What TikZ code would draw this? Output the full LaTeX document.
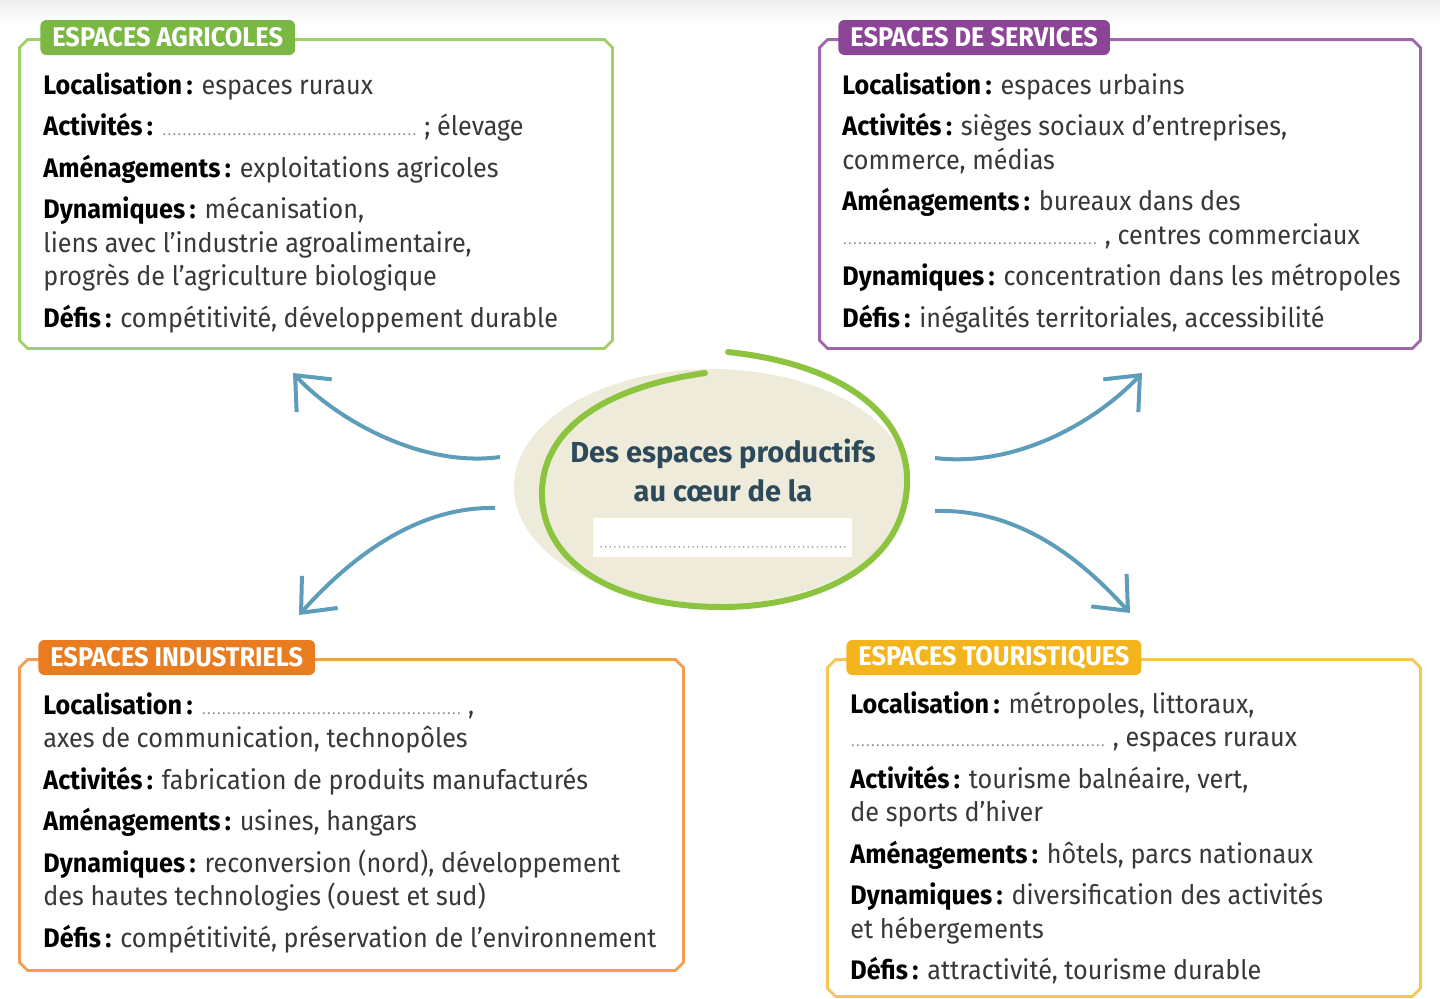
\documentclass[tikz,border=0pt]{standalone}
\usepackage{fontspec}
\setmainfont[FakeStretch=0.94]{Fira Sans}
\newfontfamily\centrefont{Fira Sans}
\usetikzlibrary{arrows.meta,shapes.geometric,positioning,calc}

\definecolor{agri}{HTML}{7AB743}
\definecolor{agriline}{HTML}{A3CF6A}
\definecolor{serv}{HTML}{8C4497}
\definecolor{servline}{HTML}{A066AA}
\definecolor{indus}{HTML}{E97C1F}
\definecolor{indusline}{HTML}{EE9F55}
\definecolor{tour}{HTML}{F4B41C}
\definecolor{tourline}{HTML}{F6C654}
\definecolor{flow}{HTML}{5E9DB9}
\definecolor{titre}{HTML}{2D4A5B}
\definecolor{creme}{HTML}{EEEBDA}
\definecolor{anneau}{HTML}{8DC43F}
\definecolor{texte}{HTML}{383838}

\newcommand\lbl[1]{{\bfseries\color{black}#1\,:}}
\newcommand\blank[1]{\hbox to #1{\color{gray}\leaders\hbox to 2.5pt{\hss\scriptsize.\hss}\hfill}}

\tikzset{
  cadre/.style={rectangle, inner sep=0pt},
  onglet/.style={fill=#1, rounded corners=3pt, text=white, font=\bfseries\fontsize{13.5}{14}\selectfont, inner xsep=6pt, inner ysep=0pt, minimum height=17.5pt, anchor=west},
  contenu/.style={align=left, anchor=north west, inner sep=0pt, text=texte, font=\fontsize{13.4}{16.75}\selectfont},
  fleche/.style={draw=flow, line width=2pt, -{Straight Barb[length=14pt,width=24pt]}}
}

\begin{document}
\begin{tikzpicture}[x=0.5pt,y=-0.5pt]
  \useasboundingbox (0,0) rectangle (1440,998);
  \shade[top color=gray!14, bottom color=white] (0,0) rectangle (1440,24);
  % The four boxes
  \node[cadre, minimum width=296pt, minimum height=154pt] (agri) at (316,194) {};
  \node[cadre, minimum width=300pt, minimum height=154pt] (serv) at (1120,194) {};
  \node[cadre, minimum width=331.5pt, minimum height=155pt] (indus) at (351.5,815) {};
  \node[cadre, minimum width=296pt, minimum height=168pt] (tour) at (1124,828) {};
  % chamfered outlines
  \foreach \b/\c in {agri/agriline,serv/servline,indus/indusline,tour/tourline}
    \draw[\c, line width=1.4pt] ($(\b.north west)+(8,0)$) -- ($(\b.north east)+(-8,0)$) -- ($(\b.north east)+(0,8)$)
      -- ($(\b.south east)+(0,-8)$) -- ($(\b.south east)+(-8,0)$) -- ($(\b.south west)+(8,0)$)
      -- ($(\b.south west)+(0,-8)$) -- ($(\b.north west)+(0,8)$) -- cycle;
  % Tabs
  \node[onglet=agri] (agritab) at (40,37.5) {ESPACES AGRICOLES};
  \node[onglet=serv] (servtab) at (838,37.5) {ESPACES DE SERVICES};
  \node[onglet=indus] (industab) at (38,657.5) {ESPACES INDUSTRIELS};
  \node[onglet=tour] (tourtab) at (846,657.5) {ESPACES TOURISTIQUES};
  % Contents
  \node[contenu] (agritxt) at (43,72) {%
    \lbl{Localisation} espaces ruraux\\[4pt]
    \lbl{Activités} \blank{129pt}\,; élevage\\[4pt]
    \lbl{Aménagements} exploitations agricoles\\[4pt]
    \lbl{Dynamiques} mécanisation,\\
    liens avec l’industrie agroalimentaire,\\
    progrès de l’agriculture biologique\\[4pt]
    \lbl{Défis} compétitivité, développement durable};
  \node[contenu] (servtxt) at (842,72) {%
    \lbl{Localisation} espaces urbains\\[4pt]
    \lbl{Activités} sièges sociaux d’entreprises,\\
    commerce, médias\\[4pt]
    \lbl{Aménagements} bureaux dans des\\
    \blank{129pt}\,, centres commerciaux\\[4pt]
    \lbl{Dynamiques} concentration dans les métropoles\\[4pt]
    \lbl{Défis} inégalités territoriales, accessibilité};
  \node[contenu] (industxt) at (43,692) {%
    \lbl{Localisation} \blank{131pt}\,,\\
    axes de communication, technopôles\\[4pt]
    \lbl{Activités} fabrication de produits manufacturés\\[4pt]
    \lbl{Aménagements} usines, hangars\\[4pt]
    \lbl{Dynamiques} reconversion (nord), développement\\
    des hautes technologies (ouest et sud)\\[4pt]
    \lbl{Défis} compétitivité, préservation de l’environnement};
  \node[contenu] (tourtxt) at (850,691) {%
    \lbl{Localisation} métropoles, littoraux,\\
    \blank{129pt}\,, espaces ruraux\\[4pt]
    \lbl{Activités} tourisme balnéaire, vert,\\
    de sports d’hiver\\[4pt]
    \lbl{Aménagements} hôtels, parcs nationaux\\[4pt]
    \lbl{Dynamiques} diversification des activités\\
    et hébergements\\[4pt]
    \lbl{Défis} attractivité, tourisme durable};
  % Centre
  \node[ellipse, fill=creme, minimum width=198pt, minimum height=118pt] (centre) at (712,487) {};
  \draw[anneau, line width=3pt, line cap=round] (728,352) .. controls (850,365) and (910,420) .. (907,485)
    .. controls (903,570) and (810,607) .. (722,607) .. controls (610,607) and (540,560) .. (542,490)
    .. controls (545,420) and (620,385) .. (705,373);
  \node[font=\centrefont\bfseries\fontsize{14.5}{19.5}\selectfont, text=titre, align=center] (titre) at (723,470) {Des espaces productifs\\au cœur de la};
  \node[fill=white, minimum width=129.5pt, minimum height=19.5pt, inner sep=0pt] (blanc) at (722,537) {};
  \draw[gray, line width=0.8pt, line cap=round, dash pattern=on 0pt off 2.3pt] ($(blanc.south west)+(9,-10)$) -- ($(blanc.south east)+(-7,-10)$);
  % Arrows
  \coordinate (d1) at (500,457);
  \coordinate (d2) at (495,508);
  \coordinate (d3) at (935,458);
  \coordinate (d4) at (935,511);
  \coordinate (a1) at (293,373);
  \coordinate (a2) at (299,615);
  \coordinate (a3) at (1142,373);
  \coordinate (a4) at (1130,613);
  \draw[fleche] (d1) .. controls (420,468) and (335,418) .. (a1);
  \draw[fleche] (d2) .. controls (405,506) and (335,575) .. (a2);
  \draw[fleche] (d3) .. controls (1020,468) and (1100,418) .. (a3);
  \draw[fleche] (d4) .. controls (1030,508) and (1095,575) .. (a4);
\end{tikzpicture}
\end{document}
